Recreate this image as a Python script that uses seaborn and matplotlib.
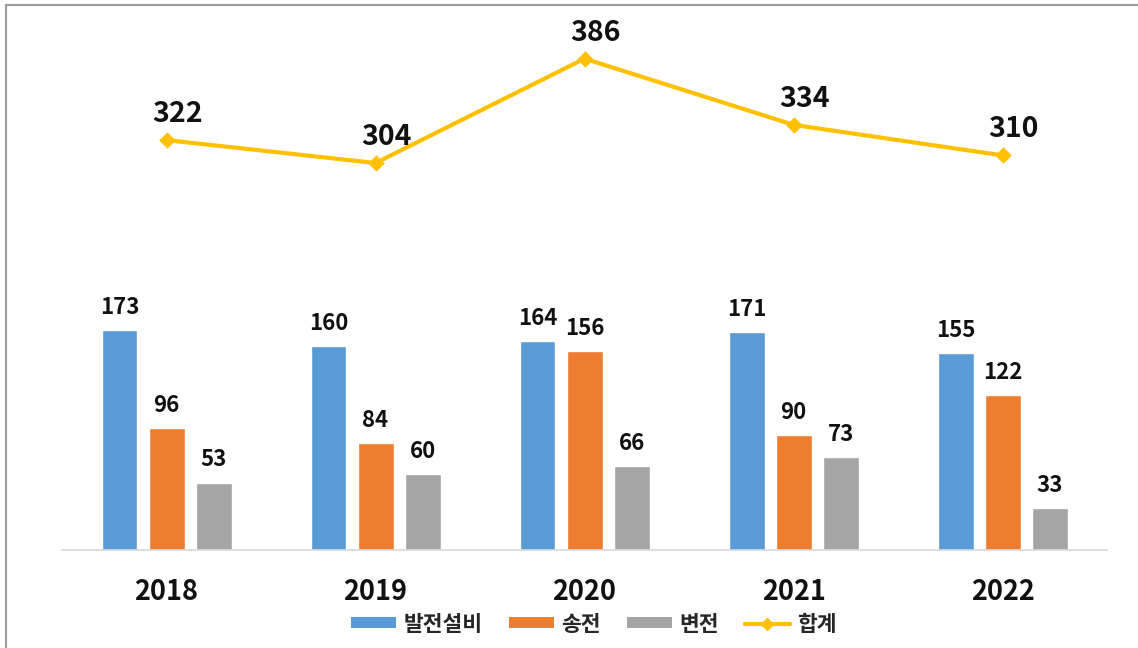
import pandas as pd
import matplotlib.pyplot as plt
import seaborn as sns
from matplotlib.patches import Patch
from matplotlib.lines import Line2D

# 데이터
years = ["2018", "2019", "2020", "2021", "2022"]
series_names = ["발전설비", "송전", "변전"]
gen = [173, 160, 164, 171, 155]
trans = [96, 84, 156, 90, 122]
sub = [53, 60, 66, 73, 33]
total = [322, 304, 386, 334, 310]
total_name = "합계"

colors = ["#5B9BD5", "#ED7D31", "#A5A5A5"]
line_color = "#FFC000"

df = pd.DataFrame({
    "year": years * 3,
    "kind": [series_names[0]] * 5 + [series_names[1]] * 5 + [series_names[2]] * 5,
    "value": gen + trans + sub,
})

sns.set_style("white")
plt.rcParams["font.family"] = ["Noto Sans CJK KR", "DejaVu Sans"]

fig = plt.figure(figsize=(11.38, 6.48), dpi=100)
ax = fig.add_axes([0.0545, 0.1512, 0.9183, 0.8251])

sns.barplot(data=df, x="year", y="value", hue="kind", palette=colors,
            width=0.675, gap=0.235, saturation=1, legend=False, ax=ax)

for cont in ax.containers:
    ax.bar_label(cont, padding=8, fontsize=16, fontweight="bold", color="#111111")

# 합계 선
sns.pointplot(x=years, y=total, color=line_color, markers="D", markersize=6,
              linewidth=3, ax=ax)
for i, v in enumerate(total):
    ax.annotate(str(v), (i, v), xytext=(8, 13), textcoords="offset points",
                ha="center", va="baseline", fontsize=20.5, fontweight="bold",
                color="#111111")

ax.set_ylim(0, 420)
ax.set_xlim(-0.5, 4.5)
ax.set_xlabel("")
ax.set_ylabel("")
ax.set_yticks([])
ax.set_xticks(range(len(years)))
ax.set_xticklabels(years, fontsize=19.5, fontweight="bold", color="#111111")
ax.tick_params(axis="x", which="major", length=0, pad=20)
ax.set_xticks([i - 0.5 for i in range(len(years) + 1)], minor=True)
ax.tick_params(axis="x", which="minor", length=6, color="#D9D9D9", width=1.2)

for s in ["top", "right", "left"]:
    ax.spines[s].set_visible(False)
ax.spines["bottom"].set_color("#D9D9D9")
ax.spines["bottom"].set_linewidth(1.2)

# 범례
handles = [Patch(facecolor=c, edgecolor="none") for c in colors]
handles.append(Line2D([], [], color=line_color, lw=3, marker="D", markersize=6))
fig.legend(handles, series_names + [total_name], loc="center",
           bbox_to_anchor=(0.522, 0.037), ncol=4, frameon=False,
           prop={"size": 15.5, "weight": "bold"}, handlelength=2.1,
           handleheight=0.4, handletextpad=0.35, columnspacing=1.2)

# 테두리
fig.add_artist(Line2D([0.0053, 0.0053], [0, 0.992], transform=fig.transFigure,
                      color="#9E9E9E", lw=1.5))
fig.add_artist(Line2D([0.0053, 1], [0.992, 0.992], transform=fig.transFigure,
                      color="#9E9E9E", lw=1.5))

plt.savefig("out.png", dpi=100)
